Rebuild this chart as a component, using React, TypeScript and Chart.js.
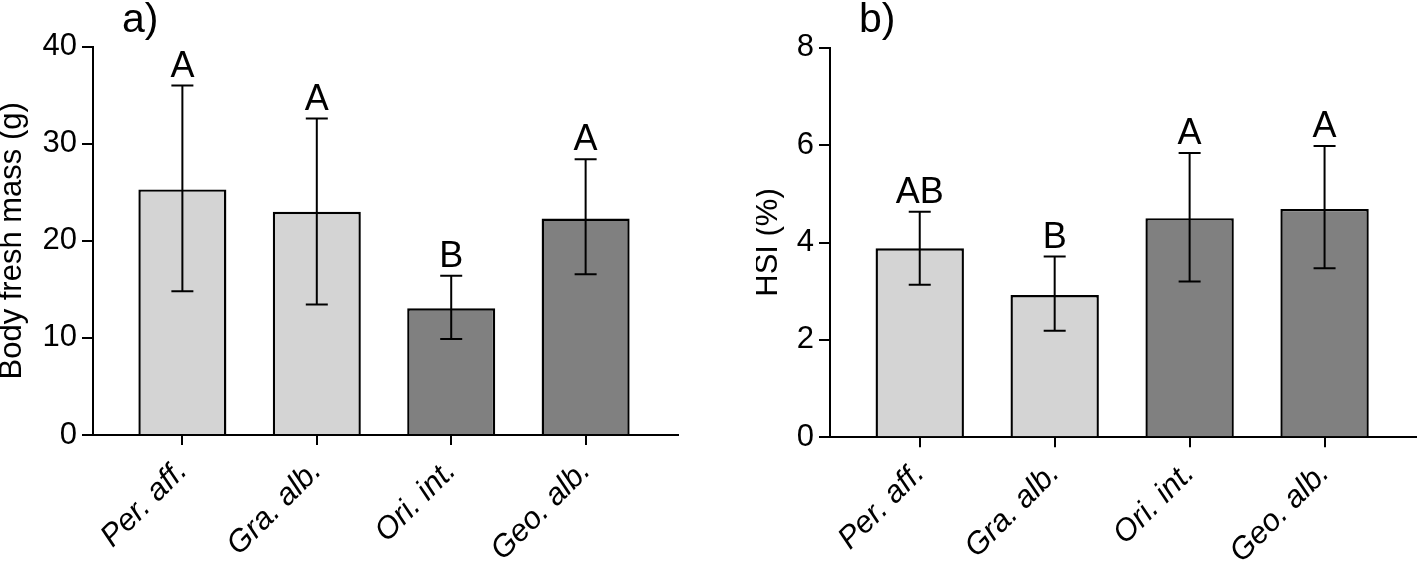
import React, { useEffect, useRef } from 'react';
import { Chart, registerables } from 'chart.js';

Chart.register(...registerables);

// ---------- data ----------
const categories = ['Per. aff.', 'Gra. alb.', 'Ori. int.', 'Geo. alb.'];
const barColors = ['#d4d4d4', '#d4d4d4', '#808080', '#808080'];

const massMean = [25.3, 23.0, 13.05, 22.3];
const massLow = [14.8, 13.45, 9.9, 16.55];
const massHigh = [36.0, 32.6, 16.4, 28.4];
const massLetters = ['A', 'A', 'B', 'A'];
const massTicks = [0, 10, 20, 30, 40];

const hsiMean = [3.88, 2.92, 4.5, 4.69];
const hsiLow = [3.13, 2.19, 3.2, 3.47];
const hsiHigh = [4.63, 3.71, 5.84, 5.98];
const hsiLetters = ['AB', 'B', 'A', 'A'];
const hsiTicks = [0, 2, 4, 6, 8];

const FONT = '"Liberation Sans", Arial, Helvetica, sans-serif';

type PanelProps = {
  means: number[];
  lows: number[];
  highs: number[];
  letters: string[];
  yTicks: number[];
  yTitle: string;
  panelLabel: string;
  left: number;
  width: number;
  yWidth: number;
  xHeight: number;
  padTop: number;
  padRight: number;
};

function Panel(p: PanelProps) {
  const ref = useRef<HTMLCanvasElement | null>(null);
  useEffect(() => {
    if (!ref.current) return;
    const errPlugin = {
      id: 'errbars',
      afterDatasetsDraw(chart: any) {
        const { ctx, scales, chartArea } = chart;
        const x = scales.x;
        const y = scales.y;
        ctx.save();
        ctx.strokeStyle = '#000';
        ctx.fillStyle = '#000';
        ctx.lineWidth = 2;
        p.lows.forEach((lo, i) => {
          const px = x.getPixelForValue(i);
          const yl = y.getPixelForValue(lo);
          const yh = y.getPixelForValue(p.highs[i]);
          ctx.beginPath();
          ctx.moveTo(px, yh);
          ctx.lineTo(px, yl);
          ctx.moveTo(px - 11, yh);
          ctx.lineTo(px + 11, yh);
          ctx.moveTo(px - 11, yl);
          ctx.lineTo(px + 11, yl);
          ctx.stroke();
          ctx.font = `36px ${FONT}`;
          ctx.textAlign = 'center';
          ctx.textBaseline = 'alphabetic';
          ctx.fillText(p.letters[i], px, yh - 9);
        });
        ctx.font = `41px ${FONT}`;
        ctx.textAlign = 'left';
        ctx.textBaseline = 'alphabetic';
        ctx.fillText(p.panelLabel, chartArea.left + 29, 32);
        ctx.restore();
      },
    };
    const chart = new Chart(ref.current, {
      type: 'bar',
      data: {
        datasets: [
          {
            data: p.means.map((v, i) => ({ x: i, y: v })),
            backgroundColor: barColors,
            borderColor: '#000',
            borderWidth: 2.4,
            barPercentage: 0.655,
            categoryPercentage: 1,
          },
        ],
      },
      options: {
        animation: false,
        responsive: false,
        maintainAspectRatio: false,
        layout: { padding: { top: p.padTop, right: p.padRight, left: 0, bottom: 0 } },
        plugins: { legend: { display: false }, tooltip: { enabled: false }, title: { display: false } },
        scales: {
          x: {
            type: 'linear',
            offset: false,
            min: -0.665,
            max: 3.685,
            afterBuildTicks: (s: any) => {
              s.ticks = categories.map((_, i) => ({ value: i }));
            },
            afterFit: (s: any) => {
              s.height = p.xHeight;
            },
            grid: { offset: false, drawOnChartArea: false, drawTicks: true, tickLength: 10, color: '#000', lineWidth: 2 },
            border: { display: true, color: '#000', width: 2 },
            ticks: {
              color: '#000',
              font: { family: FONT, size: 31, style: 'italic' },
              minRotation: 45,
              maxRotation: 45,
              padding: 8,
              autoSkip: false,
              callback: (v: any) => categories[v as number] ?? '',
            },
          },
          y: {
            type: 'linear',
            min: p.yTicks[0],
            max: p.yTicks[p.yTicks.length - 1],
            afterBuildTicks: (s: any) => {
              s.ticks = p.yTicks.map((v) => ({ value: v }));
            },
            afterFit: (s: any) => {
              s.width = p.yWidth;
            },
            grid: { drawOnChartArea: false, drawTicks: true, tickLength: 11, color: '#000', lineWidth: 2 },
            border: { display: true, color: '#000', width: 2 },
            ticks: {
              color: '#000',
              font: { family: FONT, size: 31 },
              padding: 5,
            },
            title: {
              display: true,
              text: p.yTitle,
              color: '#000',
              font: { family: FONT, size: 31, lineHeight: 0.8 },
              padding: 0,
            },
          },
        },
      } as any,
      plugins: [errPlugin],
    });
    return () => chart.destroy();
  }, []);
  return (
    <canvas
      ref={ref}
      width={p.width}
      height={564}
      style={{ position: 'absolute', left: p.left, top: 0, width: p.width, height: 564 }}
    />
  );
}

export default function App() {
  return (
    <div style={{ position: 'absolute', left: 0, top: 0, width: 1417, height: 564, background: '#fff' }}>
      <Panel
        means={massMean}
        lows={massLow}
        highs={massHigh}
        letters={massLetters}
        yTicks={massTicks}
        yTitle="Body fresh mass (g)"
        panelLabel="a)"
        left={0}
        width={700}
        yWidth={93}
        xHeight={129}
        padTop={46.7}
        padRight={22.3}
      />
      <Panel
        means={hsiMean}
        lows={hsiLow}
        highs={hsiHigh}
        letters={hsiLetters}
        yTicks={hsiTicks}
        yTitle="HSI (%)"
        panelLabel="b)"
        left={756}
        width={661}
        yWidth={74}
        xHeight={126.7}
        padTop={47.7}
        padRight={0}
      />
    </div>
  );
}
